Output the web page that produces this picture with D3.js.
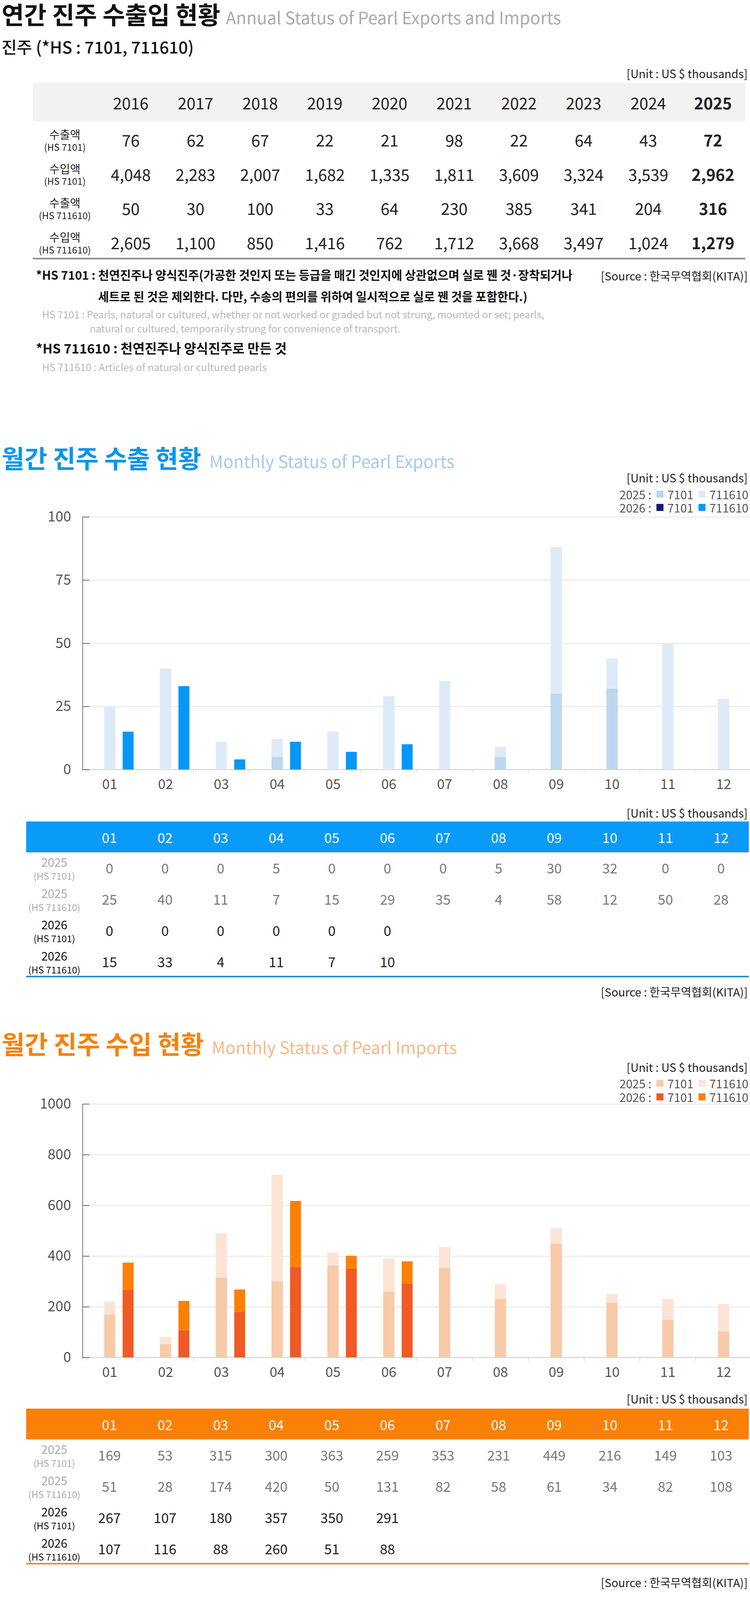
<!DOCTYPE html>
<html>
<head>
<meta charset="utf-8">
<script src="https://cdn.jsdelivr.net/npm/d3@7"></script>
<style>
  body { margin: 0; background: #fff; }
  svg { display: block; font-family: "Noto Sans CJK KR", "Noto Sans", sans-serif; }
</style>
</head>
<body>
<div id="chart"></div>
<script>
// ---- annual data ----
const years = ["2016", "2017", "2018", "2019", "2020", "2021", "2022", "2023", "2024", "2025"];
const annualExport7101   = [76, 62, 67, 22, 21, 98, 22, 64, 43, 72];
const annualImport7101   = [4048, 2283, 2007, 1682, 1335, 1811, 3609, 3324, 3539, 2962];
const annualExport711610 = [50, 30, 100, 33, 64, 230, 385, 341, 204, 316];
const annualImport711610 = [2605, 1100, 850, 1416, 762, 1712, 3668, 3497, 1024, 1279];

// ---- monthly data ----
const months = ["01", "02", "03", "04", "05", "06", "07", "08", "09", "10", "11", "12"];
const exp2025_7101   = [0, 0, 0, 5, 0, 0, 0, 5, 30, 32, 0, 0];
const exp2025_711610 = [25, 40, 11, 7, 15, 29, 35, 4, 58, 12, 50, 28];
const exp2026_7101   = [0, 0, 0, 0, 0, 0];
const exp2026_711610 = [15, 33, 4, 11, 7, 10];
const expTicks = [0, 25, 50, 75, 100];

const imp2025_7101   = [169, 53, 315, 300, 363, 259, 353, 231, 449, 216, 149, 103];
const imp2025_711610 = [51, 28, 174, 420, 50, 131, 82, 58, 61, 34, 82, 108];
const imp2026_7101   = [267, 107, 180, 357, 350, 291];
const imp2026_711610 = [107, 116, 88, 260, 51, 88];
const impTicks = [0, 200, 400, 600, 800, 1000];

const W = 1920, H = 4370;
const fmt = d3.format(",");

const svg = d3.select("#chart").append("svg")
    .attr("width", W)
    .attr("height", H);

svg.append("rect").attr("width", W).attr("height", H).attr("fill", "#fff");

// small helper for text
function txt(parent, x, y, s, o = {}) {
    const t = parent.append("text")
        .attr("x", x)
        .attr("y", y)
        .attr("font-size", o.size || 28)
        .attr("fill", o.fill || "#222")
        .attr("text-anchor", o.anchor || "start")
        .text(s);
    if (o.weight) t.attr("font-weight", o.weight);
    if (o.mid) t.attr("dominant-baseline", "central");
    if (o.ls) t.attr("letter-spacing", o.ls);
    if (o.fit) fit(t, o.fit);
    return t;
}

// scale a text's font so its run matches the width measured in the original
function fit(t, width) {
    for (let k = 0; k < 2; k++) {
        let cur = t.node().getComputedTextLength();
        if (!cur) return;
        let fs = +t.attr("font-size");
        t.attr("font-size", (fs * width / cur).toFixed(2));
    }
}

function title(parent, y, ko, en, koColor, enColor, koW, enX, enW) {
    txt(parent, 4, y, ko, {size: 64, weight: "bold", fill: koColor, fit: koW});
    txt(parent, enX, y, en, {size: 42, fill: enColor, fit: enW});
}

// =========== ANNUAL ===========
let annual = svg.append("g");

title(annual, 62, "연간 진주 수출입 현황", "Annual Status of Pearl Exports and Imports",
    "#111", "#ababab", 560, 578, 858);
txt(annual, 4, 137, "진주 (*HS : 7101, 711610)", {size: 43, weight: 500, fill: "#111", fit: 492});
txt(annual, 1914, 187, "[Unit : US $ thousands]", {size: 28, anchor: "end", mid: true, fit: 310});

let ax = d3.scaleBand().domain(years).range([252, 1908]);

annual.append("rect")
    .attr("x", 84).attr("y", 212)
    .attr("width", 1824).attr("height", 99)
    .attr("fill", "#f2f2f2");

years.forEach((yr, i) => {
    txt(annual, ax(yr) + ax.bandwidth() / 2, 262, yr, {
        size: 41, anchor: "middle", mid: true, fill: "#222",
        weight: i === years.length - 1 ? "bold" : null
    });
});

let annualRows = [
    {name: "수출액", hs: "(HS 7101)", vals: annualExport7101},
    {name: "수입액", hs: "(HS 7101)", vals: annualImport7101},
    {name: "수출액", hs: "(HS 711610)", vals: annualExport711610},
    {name: "수입액", hs: "(HS 711610)", vals: annualImport711610}
];
let ay = d3.scalePoint().domain(d3.range(annualRows.length)).range([357, 620]);

annualRows.forEach((r, ri) => {
    let cy = ay(ri);
    txt(annual, 166, cy - 14, r.name, {size: 29, anchor: "middle", mid: true, fill: "#222"});
    txt(annual, 166, cy + 18, r.hs, {size: 24, anchor: "middle", mid: true, fill: "#222"});
    r.vals.forEach((v, i) => {
        txt(annual, ax(years[i]) + ax.bandwidth() / 2, cy, fmt(v), {
            size: 41, anchor: "middle", mid: true, fill: "#222",
            weight: i === years.length - 1 ? "bold" : null
        });
    });
});

annual.append("line")
    .attr("x1", 84).attr("x2", 1908)
    .attr("y1", 662).attr("y2", 662)
    .attr("stroke", "#8c8c8c")
    .attr("stroke-width", 4);

// notes under annual table
txt(annual, 92, 703, "*HS 7101 : 천연진주나 양식진주(가공한 것인지 또는 등급을 매긴 것인지에 상관없으며 실로 꿴 것·장착되거나",
    {size: 31, weight: "bold", mid: true, fill: "#111", fit: 1374});
txt(annual, 251, 758, "세트로 된 것은 제외한다. 다만, 수송의 편의를 위하여 일시적으로 실로 꿴 것을 포함한다.)",
    {size: 31, weight: "bold", mid: true, fill: "#111", fit: 1099});
txt(annual, 1914, 705, "[Source : 한국무역협회(KITA)]", {size: 28, anchor: "end", mid: true, fit: 376});
txt(annual, 108, 803, "HS 7101 : Pearls, natural or cultured, whether or not worked or graded but not strung, mounted or set; pearls,",
    {size: 26, mid: true, fill: "#b8b8b8", fit: 1285});
txt(annual, 230, 840, "natural or cultured, temporarily strung for convenience of transport.",
    {size: 26, mid: true, fill: "#b8b8b8", fit: 795});
txt(annual, 92, 890, "*HS 711610 : 천연진주나 양식진주로 만든 것",
    {size: 31, weight: "bold", mid: true, fill: "#111", fit: 642});
txt(annual, 108, 938, "HS 711610 : Articles of natural or cultured pearls",
    {size: 26, mid: true, fill: "#b8b8b8", fit: 575});

// =========== MONTHLY ===========
function drawMonthly(o) {
    let g = svg.append("g");

    title(g, o.titleY, o.ko, o.en, o.koColor, o.enColor, o.koW, o.enX, o.enW);
    txt(g, 1914, o.unitY, "[Unit : US $ thousands]", {size: 28, anchor: "end", mid: true, fit: 310});

    // legend, laid out from the right edge
    let legendRows = [
        {year: "2025 :", colors: [o.c25a, o.c25b]},
        {year: "2026 :", colors: [o.c26a, o.c26b]}
    ];
    legendRows.forEach((lr, li) => {
        let ly = o.legendY[li];
        let xr = 1916;
        let labels = ["7101", "711610"];
        for (let k = 1; k >= 0; k--) {
            let t = txt(g, xr, ly, labels[k], {size: 30, anchor: "end", mid: true, fill: "#555"});
            let w = t.node().getComputedTextLength();
            xr = xr - w - 10;
            g.append("rect")
                .attr("x", xr - 18).attr("y", ly - 9)
                .attr("width", 18).attr("height", 18)
                .attr("fill", lr.colors[k]);
            xr = xr - 18 - 13;
        }
        txt(g, xr, ly, lr.year, {size: 30, anchor: "end", mid: true, fill: "#555"});
    });

    // scales
    let x = d3.scaleBand().domain(months).range([209.5, 1924]);
    let y = d3.scaleLinear().domain([0, o.yMax]).range([o.plotBottom, o.plotTop]);
    let x0 = 211, gridRight = 1920;

    // gridlines
    let grid = g.append("g")
        .attr("transform", "translate(" + x0 + ",0)")
        .call(d3.axisLeft(y).tickValues(o.ticks).tickSize(-(gridRight - x0)).tickFormat(""));
    grid.select(".domain").remove();
    grid.selectAll("line").attr("stroke", "#dcdcdc").attr("stroke-width", 1.5);

    // x axis
    let xa = g.append("g")
        .attr("transform", "translate(0," + o.plotBottom + ")")
        .call(d3.axisBottom(x).tickSize(0).tickPadding(25));
    xa.select(".domain").remove();
    xa.attr("font-size", 35).attr("font-family", null);
    xa.selectAll("text").attr("fill", "#555");

    g.append("line")
        .attr("x1", x0).attr("x2", gridRight)
        .attr("y1", o.plotBottom).attr("y2", o.plotBottom)
        .attr("stroke", "#cfcfcf").attr("stroke-width", 2);

    g.selectAll(".cat-tick")
        .data(months)
        .enter()
        .append("line")
        .attr("class", "cat-tick")
        .attr("x1", (d, i) => i === 0 ? x0 : x(d))
        .attr("x2", (d, i) => i === 0 ? x0 : x(d))
        .attr("y1", o.plotBottom)
        .attr("y2", o.plotBottom + 9)
        .attr("stroke", "#d6d6d6")
        .attr("stroke-width", 1.5);

    // bars: 2025 stacked, centered in band
    let c = d => x(d) + x.bandwidth() / 2;
    months.forEach((m, i) => {
        let a = o.d25a[i], b = o.d25b[i];
        g.append("rect")
            .attr("x", c(m) - 14.5).attr("width", 29)
            .attr("y", y(a)).attr("height", y(0) - y(a))
            .attr("fill", o.c25a);
        g.append("rect")
            .attr("x", c(m) - 14.5).attr("width", 29)
            .attr("y", y(a + b)).attr("height", y(a) - y(a + b))
            .attr("fill", o.c25b);
    });
    // bars: 2026 stacked, right of 2025
    o.d26a.forEach((a, i) => {
        let m = months[i], b = o.d26b[i];
        g.append("rect")
            .attr("x", c(m) + 33).attr("width", 28)
            .attr("y", y(a)).attr("height", y(0) - y(a))
            .attr("fill", o.c26a);
        g.append("rect")
            .attr("x", c(m) + 33).attr("width", 28)
            .attr("y", y(a + b)).attr("height", y(a) - y(a + b))
            .attr("fill", o.c26b);
    });

    // y axis
    let ya = g.append("g")
        .attr("transform", "translate(" + x0 + ",0)")
        .call(d3.axisLeft(y).tickValues(o.ticks).tickFormat(d3.format("d"))
            .tickSizeInner(-18).tickSizeOuter(0).tickPadding(29));
    ya.attr("font-size", 36).attr("font-family", null);
    ya.select(".domain").attr("stroke", "#777").attr("stroke-width", 2);
    ya.selectAll("line").attr("stroke", "#666").attr("stroke-width", 2);
    ya.selectAll("text").attr("fill", "#555");

    // ---- table ----
    let tx = d3.scaleBand().domain(months).range([209, 1917]);
    let tc = d => tx(d) + tx.bandwidth() / 2;

    txt(g, 1914, o.tableUnitY, "[Unit : US $ thousands]", {size: 28, anchor: "end", mid: true, fit: 310});

    g.append("rect")
        .attr("x", 67).attr("y", o.headerTop)
        .attr("width", 1850).attr("height", 79)
        .attr("fill", o.headColor);
    g.append("rect")
        .attr("x", 67).attr("y", o.headerTop + 77)
        .attr("width", 1850).attr("height", 2)
        .attr("fill", o.lineColor);

    months.forEach(m => {
        txt(g, tc(m), o.headerTop + 39, m, {size: 35, anchor: "middle", mid: true, fill: "#fff"});
    });

    let rows = [
        {year: "2025", hs: "(HS 7101)", vals: o.d25a, muted: true},
        {year: "2025", hs: "(HS 711610)", vals: o.d25b, muted: true},
        {year: "2026", hs: "(HS 7101)", vals: o.d26a, muted: false},
        {year: "2026", hs: "(HS 711610)", vals: o.d26b, muted: false}
    ];
    let ry = d3.scalePoint().domain(d3.range(rows.length))
        .range([o.headerTop + 117, o.headerTop + 357]);

    rows.forEach((r, ri) => {
        let cy = ry(ri);
        let lc = r.muted ? "#ababab" : "#111";
        let vc = r.muted ? "#7a7a7a" : "#222";
        txt(g, 139, cy - 14, r.year, {size: 30, anchor: "middle", mid: true, fill: lc});
        txt(g, 139, cy + 21, r.hs, {size: 24, anchor: "middle", mid: true, fill: lc});
        r.vals.forEach((v, i) => {
            txt(g, tc(months[i]), cy, fmt(v), {size: 35, anchor: "middle", mid: true, fill: vc});
        });
    });

    g.append("line")
        .attr("x1", 67).attr("x2", 1917)
        .attr("y1", o.headerTop + 397).attr("y2", o.headerTop + 397)
        .attr("stroke", o.lineColor)
        .attr("stroke-width", 4);

    txt(g, 1914, o.sourceY, "[Source : 한국무역협회(KITA)]", {size: 28, anchor: "end", mid: true, fit: 376});
}

drawMonthly({
    ko: "월간 진주 수출 현황", en: "Monthly Status of Pearl Exports",
    koColor: "#0a95ec", enColor: "#a8cbea", koW: 511, enX: 536, enW: 627,
    titleY: 1198, unitY: 1222, legendY: [1265, 1299],
    plotTop: 1323, plotBottom: 1970, yMax: 100, ticks: expTicks,
    d25a: exp2025_7101, d25b: exp2025_711610, d26a: exp2026_7101, d26b: exp2026_711610,
    c25a: "#bdd7ee", c25b: "#deebf7", c26a: "#1b1b6e", c26b: "#0497f6",
    tableUnitY: 2080, headerTop: 2103, headColor: "#0a9bf8", lineColor: "#1a8fe0",
    sourceY: 2538
});

drawMonthly({
    ko: "월간 진주 수입 현황", en: "Monthly Status of Pearl Imports",
    koColor: "#f5820c", enColor: "#f6b98a", koW: 518, enX: 542, enW: 628,
    titleY: 2698, unitY: 2731, legendY: [2773, 2808],
    plotTop: 2826, plotBottom: 3475, yMax: 1000, ticks: impTicks,
    d25a: imp2025_7101, d25b: imp2025_711610, d26a: imp2026_7101, d26b: imp2026_711610,
    c25a: "#f8caa8", c25b: "#fbe4d5", c26a: "#f05a24", c26b: "#fc8003",
    tableUnitY: 3580, headerTop: 3606, headColor: "#fa8007", lineColor: "#ec8a2e",
    sourceY: 4050
});

// =========== FOOTNOTE BOX ===========
let foot = svg.append("g");
foot.append("rect")
    .attr("x", 67).attr("y", 4107)
    .attr("width", W - 67).attr("height", H - 4107)
    .attr("fill", "#f5f5f5");

let f1 = foot.append("text")
    .attr("x", 98).attr("y", 4162)
    .attr("font-size", 35).attr("fill", "#111")
    .attr("dominant-baseline", "central");
f1.append("tspan").text("*수출입 데이터는 HS Code 기준이며, ");
f1.append("tspan").attr("font-weight", "bold").text("한국무역협회");
f1.append("tspan").text("의 무역 통계를 기초로 함.");
fit(f1, 1090);

txt(foot, 117, 4204, "Import and export data are classified into HS Code and are based on the trade statistics of Korea International  Trade Association(KITA).",
    {size: 26, mid: true, fill: "#b5b5b5", fit: 1527});
txt(foot, 98, 4253, "*무역 통계는 관세청의  통관자료를 기초로 하므로 해당 기간 자료가 없을 경우 ‘-’로 표시.(무역 통계는 매달 20일에 갱신됨)",
    {size: 35, mid: true, fill: "#111", fit: 1718});
txt(foot, 117, 4293, "Trade statistics are based on customs clearance data from Korea Customs Service, so if there is no data for the period, mark it as ‘-’.",
    {size: 26, mid: true, fill: "#b5b5b5", fit: 1488});
txt(foot, 117, 4331, "(Trade statistics are usually updated on the 20th of every month)",
    {size: 26, mid: true, fill: "#b5b5b5", fit: 733});
</script>
</body>
</html>
